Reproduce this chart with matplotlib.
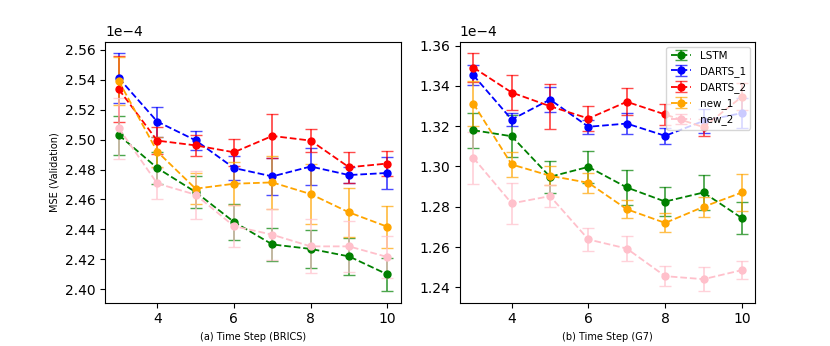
import numpy as np
import matplotlib
matplotlib.use("Agg")
import matplotlib.pyplot as plt
from matplotlib.ticker import FormatStrFormatter

steps = [3, 4, 5, 6, 7, 8, 9, 10]
names = ["LSTM", "DARTS_1", "DARTS_2", "new_1", "new_2"]
colors = ["green", "blue", "red", "orange", "pink"]

# BRICS (x1e-4)
brics_lstm = [2.503, 2.481, 2.465, 2.445, 2.430, 2.427, 2.422, 2.410]
brics_lstm_err = [0.013, 0.011, 0.011, 0.012, 0.011, 0.0125, 0.0125, 0.011]
brics_d1 = [2.541, 2.512, 2.4995, 2.481, 2.4754, 2.482, 2.4763, 2.4777]
brics_d1_err = [0.0165, 0.010, 0.0065, 0.008, 0.0124, 0.0125, 0.0055, 0.0105]
brics_d2 = [2.5335, 2.4993, 2.4961, 2.4915, 2.5024, 2.4993, 2.4815, 2.484]
brics_d2_err = [0.022, 0.009, 0.007, 0.009, 0.0145, 0.0077, 0.0105, 0.0085]
brics_n1 = [2.539, 2.492, 2.4672, 2.4705, 2.4714, 2.4636, 2.4514, 2.4418]
brics_n1_err = [0.016, 0.010, 0.0105, 0.0143, 0.0178, 0.020, 0.0162, 0.014]
brics_n2 = [2.5075, 2.4707, 2.4632, 2.4422, 2.4365, 2.4287, 2.4287, 2.4216]
brics_n2_err = [0.0203, 0.0102, 0.016, 0.0138, 0.0172, 0.018, 0.017, 0.014]

# G7 (x1e-4)
g7_lstm = [1.318, 1.315, 1.2949, 1.2998, 1.2896, 1.2826, 1.2871, 1.2744]
g7_lstm_err = [0.0087, 0.0105, 0.008, 0.0078, 0.0085, 0.0071, 0.0086, 0.0081]
g7_d1 = [1.3453, 1.3233, 1.3332, 1.3197, 1.3213, 1.3152, 1.3226, 1.3265]
g7_d1_err = [0.0048, 0.0034, 0.006, 0.0035, 0.0053, 0.004, 0.006, 0.0075]
g7_d2 = [1.3491, 1.3367, 1.3299, 1.3238, 1.3321, 1.3258, 1.3195, 1.3346]
g7_d2_err = [0.007, 0.0087, 0.0112, 0.006, 0.0067, 0.005, 0.0042, 0.0067]
g7_n1 = [1.3312, 1.301, 1.2954, 1.2919, 1.2788, 1.272, 1.280, 1.2871]
g7_n1_err = [0.011, 0.006, 0.0048, 0.0049, 0.0044, 0.0047, 0.0051, 0.0093]
g7_n2 = [1.3043, 1.2817, 1.2853, 1.2638, 1.2593, 1.2456, 1.2441, 1.2486]
g7_n2_err = [0.013, 0.0102, 0.0054, 0.0058, 0.0063, 0.005, 0.0058, 0.0045]

brics = [(brics_lstm, brics_lstm_err), (brics_d1, brics_d1_err), (brics_d2, brics_d2_err),
         (brics_n1, brics_n1_err), (brics_n2, brics_n2_err)]
g7 = [(g7_lstm, g7_lstm_err), (g7_d1, g7_d1_err), (g7_d2, g7_d2_err),
      (g7_n1, g7_n1_err), (g7_n2, g7_n2_err)]

fig, axs = plt.subplots(1, 2, figsize=(8.3, 3.46), dpi=100)
fig.subplots_adjust(left=0.127, right=0.91, top=0.88, bottom=0.125, wspace=0.2)

# plot values in units of 1e-4, offset label drawn like the sci notation one
def draw(ax, data):
    for (y, e), name, c in zip(data, names, colors):
        cont = ax.errorbar(steps, y, yerr=e, fmt='o--', color=c, label=name,
                           markersize=5, capsize=4, linewidth=1.3)
        for cap in cont[1]:
            cap.set_alpha(0.7)
        for bar in cont[2]:
            bar.set_alpha(0.7)
    ax.set_xticks([4, 6, 8, 10])
    ax.yaxis.set_major_formatter(FormatStrFormatter('%.2f'))
    ax.text(0, 1.01, '1e\u22124', transform=ax.transAxes, fontsize=10,
            ha='left', va='bottom')

draw(axs[0], brics)
draw(axs[1], g7)

axs[0].set_yticks(np.linspace(2.40, 2.56, 9))
axs[1].set_yticks(np.linspace(1.24, 1.36, 7))

axs[0].set_xlabel("(a) Time Step (BRICS)", fontsize=7)
axs[1].set_xlabel("(b) Time Step (G7)", fontsize=7)
axs[0].set_ylabel("MSE (Validation)", fontsize=7)
axs[1].legend(loc='upper right', fontsize=7.5)

fig.savefig("out.png")
